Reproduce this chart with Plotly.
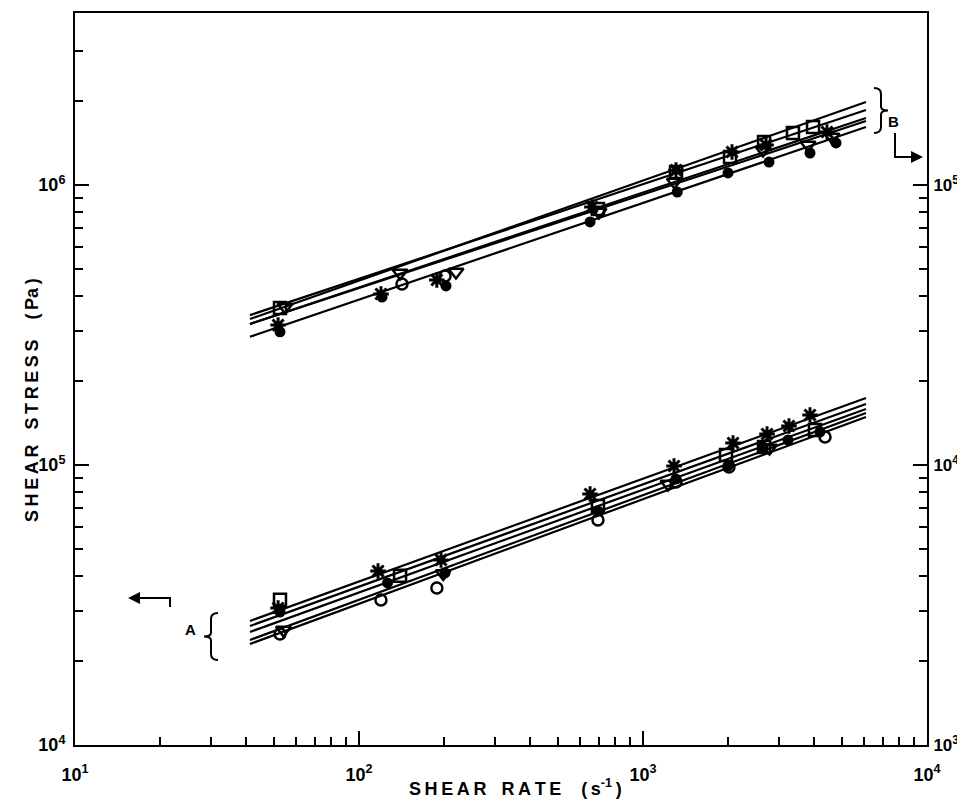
import plotly.graph_objects as go

# ---------------- data ----------------
# Group A : plotted against the LEFT axis (shear stress, Pa)
A_sq_x = [52.7, 139.5, 694, 1960, 2668, 4033]
A_sq_y = [3.30e4, 4.02e4, 7.14e4, 1.086e5, 1.16e5, 1.334e5]
A_ast_x = [51.9, 116.7, 194.5, 651, 1286, 2075, 2734, 3266, 3873]
A_ast_y = [3.085e4, 4.18e4, 4.58e4, 7.88e4, 9.92e4, 1.198e5, 1.29e5, 1.378e5, 1.509e5]
A_fill_x = [52.7, 126, 200.9, 694, 1307, 1992, 2646, 3240, 4200]
A_fill_y = [2.985e4, 3.79e4, 4.115e4, 6.85e4, 8.91e4, 9.92e4, 1.16e5, 1.228e5, 1.312e5]
A_circ_x = [52.7, 119.5, 188, 694, 1307, 2008, 4374]
A_circ_y = [2.49e4, 3.295e4, 3.637e4, 6.36e4, 8.7e4, 9.84e4, 1.259e5]
A_tri_x = [54.2, 198, 1225, 2790]
A_tri_y = [2.575e4, 4.1e4, 8.55e4, 1.15e5]

# Group B : plotted against the RIGHT axis (shear stress, Pa)
B_sq_x = [52.7, 694, 1307, 2025, 2668, 3373, 3969]
B_sq_y = [3.64e4, 8.21e4, 1.113e5, 1.259e5, 1.424e5, 1.534e5, 1.611e5]
B_tri_x = [54.9, 139.5, 219.5, 700, 1290, 2646, 3811, 4630]
B_tri_y = [3.67e4, 4.85e4, 4.89e4, 8.01e4, 1.025e5, 1.334e5, 1.39e5, 1.484e5]
B_ast_x = [51.9, 119.5, 188, 661, 1307, 2058, 2712, 4445]
B_ast_y = [3.16e4, 4.08e4, 4.58e4, 8.35e4, 1.13e5, 1.312e5, 1.39e5, 1.546e5]
B_fill_x = [52.7, 120.5, 202.5, 651, 1320, 1992, 2778, 3873, 4782]
B_fill_y = [2.99e4, 3.98e4, 4.36e4, 7.38e4, 9.44e4, 1.104e5, 1.208e5, 1.301e5, 1.413e5]
B_circ_x = [141.7, 200.9]
B_circ_y = [4.43e4, 4.73e4]

# Power-law fit lines: stress at the two ends of the fitted range
line_x = [41.3, 6098]
A_lines = {
    "ast": [2.773e4, 1.735e5],
    "sq": [2.661e4, 1.652e5],
    "fill": [2.533e4, 1.585e5],
    "tri": [2.371e4, 1.534e5],
    "circ": [2.295e4, 1.484e5],
}
B_lines = {
    "ast": [3.32e4, 1.979e5],
    "sq": [3.43e4, 1.853e5],
    "tri": [3.19e4, 1.735e5],
    "circ": [3.19e4, 1.692e5],
    "fill": [2.87e4, 1.611e5],
}

x_major = [10, 100, 1000, 10000]
x_major_text = ["10<sup>1</sup>", "10<sup>2</sup>", "10<sup>3</sup>", "10<sup>4</sup>"]
yl_major = [1e4, 1e5, 1e6]
yl_major_text = ["10<sup>4</sup>", "10<sup>5</sup>", "10<sup>6</sup>"]
yr_major = [1e3, 1e4, 1e5]
yr_major_text = ["10<sup>3</sup>", "10<sup>4</sup>", "10<sup>5</sup>"]

# ---------------- figure ----------------
# the page body has an 8 px margin, so the figure is 8 px smaller and
# its margins are 8 px smaller on the left/top.
OFF = 8
W, H = 965 - OFF, 806 - OFF
PL, PR, PT, PB = 75, 927, 13, 745          # plot box in page pixels
PW, PH = PR - PL, PB - PT
L, T = PL - OFF, PT - OFF
R, B = W - (PR - OFF), H - (PB - OFF)


def px(x):
    return (x - PL) / PW


def py(y):
    return (PB - y) / PH


BLACK = "black"
FAM = "Liberation Sans"
FONT = dict(family=FAM, color=BLACK, size=15, weight="bold")

styles = {
    "sq": dict(symbol="square-open", size=12, line=dict(width=2.5, color=BLACK)),
    "tri": dict(symbol="triangle-down-open", size=13, line=dict(width=2.5, color=BLACK)),
    "ast": dict(symbol="asterisk-open", size=13, line=dict(width=3, color=BLACK)),
    "fill": dict(symbol="circle", size=11, color=BLACK, line=dict(width=0)),
    "circ": dict(symbol="circle-open", size=11, line=dict(width=2.5, color=BLACK)),
}

fig = go.Figure()

for key, ys in A_lines.items():
    fig.add_trace(go.Scatter(x=line_x, y=ys, mode="lines",
                             line=dict(color=BLACK, width=2.2), yaxis="y"))
for key, ys in B_lines.items():
    fig.add_trace(go.Scatter(x=line_x, y=ys, mode="lines",
                             line=dict(color=BLACK, width=2.2), yaxis="y2"))

A_pts = {"sq": (A_sq_x, A_sq_y), "ast": (A_ast_x, A_ast_y), "fill": (A_fill_x, A_fill_y),
         "circ": (A_circ_x, A_circ_y), "tri": (A_tri_x, A_tri_y)}
B_pts = {"sq": (B_sq_x, B_sq_y), "tri": (B_tri_x, B_tri_y), "ast": (B_ast_x, B_ast_y),
         "fill": (B_fill_x, B_fill_y), "circ": (B_circ_x, B_circ_y)}

for key, (xs, ys) in A_pts.items():
    m = dict(styles[key])
    m.setdefault("color", BLACK)
    fig.add_trace(go.Scatter(x=xs, y=ys, mode="markers", marker=m, yaxis="y"))
for key, (xs, ys) in B_pts.items():
    m = dict(styles[key])
    m.setdefault("color", BLACK)
    fig.add_trace(go.Scatter(x=xs, y=ys, mode="markers", marker=m, yaxis="y2"))


def minor_vals(lo, hi, top=None):
    out = []
    for d in range(lo, hi):
        for k in range(2, 10):
            v = k * 10 ** d
            if top is None or v <= top:
                out.append(v)
    return out


TICKFONT = dict(family=FAM, size=18, color=BLACK, weight="bold")
axis_common = dict(
    type="log", showgrid=False, zeroline=False, showline=True,
    linecolor=BLACK, linewidth=2, ticks="inside", tickwidth=2,
    tickcolor=BLACK, ticklen=14,
    tickmode="array", automargin=False,
)
minor_common = dict(ticks="inside", ticklen=8, tickwidth=1.8, tickcolor=BLACK,
                    tickmode="array", showgrid=False)

fig.update_layout(
    width=W, height=H,
    margin=dict(l=L, r=R, t=T, b=B, pad=0, autoexpand=False),
    paper_bgcolor="white", plot_bgcolor="white",
    showlegend=False,
    font=FONT,
    xaxis=dict(
        **axis_common, range=[1, 4], tickvals=x_major, ticktext=x_major_text,
        mirror=True, ticklabelstandoff=12, tickfont=TICKFONT,
        minor=dict(**minor_common, tickvals=minor_vals(1, 4)),
    ),
    yaxis=dict(
        **axis_common, range=[4, 4 + PH / 280], tickvals=yl_major, ticktext=yl_major_text,
        ticklabelstandoff=4, tickfont=TICKFONT,
        minor=dict(**minor_common, tickvals=minor_vals(4, 7, 3e6)),
    ),
    yaxis2=dict(
        **axis_common, range=[3, 3 + PH / 280], tickvals=yr_major, ticktext=yr_major_text,
        overlaying="y", side="right", ticklabelstandoff=1,
        tickfont=dict(family=FAM, size=17, color=BLACK, weight="bold"),
        minor=dict(**minor_common, tickvals=minor_vals(3, 5)),
    ),
)

TS = "\u2009"  # thin space used as letter spacing


def spaced(s):
    return TS.join(s)


# Axis titles
fig.add_annotation(x=px(515), y=py(801), xref="paper", yref="paper", yanchor="bottom",
                   text=spaced("SHEAR") + "   " + spaced("RATE") + "    (" + TS + "s<sup>-1</sup>" + TS + ")",
                   showarrow=False,
                   font=dict(family=FAM, size=18, color=BLACK, weight="bold"))
fig.add_annotation(x=px(20), y=py(400), xref="paper", yref="paper",
                   text=spaced("SHEAR") + "   " + spaced("STRESS") + "    (" + TS + "Pa" + TS + ")",
                   showarrow=False, textangle=-90,
                   font=dict(family=FAM, size=18, color=BLACK, weight="bold"))


# Braces, labels and arrows
def brace(xc, y0, y1, w):
    ym = (y0 + y1) / 2
    return (f"M {px(xc + w)},{py(y0)} Q {px(xc)},{py(y0)} {px(xc)},{py(y0 + 6)} "
            f"L {px(xc)},{py(ym - 4)} Q {px(xc)},{py(ym)} {px(xc - w)},{py(ym)} "
            f"Q {px(xc)},{py(ym)} {px(xc)},{py(ym + 4)} "
            f"L {px(xc)},{py(y1 - 6)} Q {px(xc)},{py(y1)} {px(xc + w)},{py(y1)}")


shape_line = dict(color=BLACK, width=2)
fig.add_shape(type="path", xref="paper", yref="paper", path=brace(211, 613, 660, 7), line=shape_line)
fig.add_shape(type="path", xref="paper", yref="paper", path=brace(881, 88, 133, -7), line=shape_line)
# hook of the left arrow
fig.add_shape(type="path", xref="paper", yref="paper",
              path=f"M {px(170)},{py(607)} L {px(170)},{py(598)} L {px(140)},{py(598)}", line=shape_line)
# hook of the right arrow
fig.add_shape(type="path", xref="paper", yref="paper",
              path=f"M {px(895)},{py(133)} L {px(895)},{py(157)} L {px(910)},{py(157)}", line=shape_line)

fig.add_annotation(x=px(128), y=py(598), xref="paper", yref="paper", text="",
                   showarrow=True, arrowhead=2, arrowsize=1.2, arrowwidth=2, arrowcolor=BLACK,
                   ax=42, ay=0)
fig.add_annotation(x=px(923), y=py(157), xref="paper", yref="paper", text="",
                   showarrow=True, arrowhead=2, arrowsize=1.2, arrowwidth=2, arrowcolor=BLACK,
                   ax=-28, ay=0)
fig.add_annotation(x=px(183), y=py(640), xref="paper", yref="paper", text="A",
                   showarrow=False, font=dict(family=FAM, size=15, color=BLACK, weight="bold"))
fig.add_annotation(x=px(901), y=py(111), xref="paper", yref="paper", text="B",
                   showarrow=False, font=dict(family=FAM, size=15, color=BLACK, weight="bold"))

fig.write_html("out.html")
